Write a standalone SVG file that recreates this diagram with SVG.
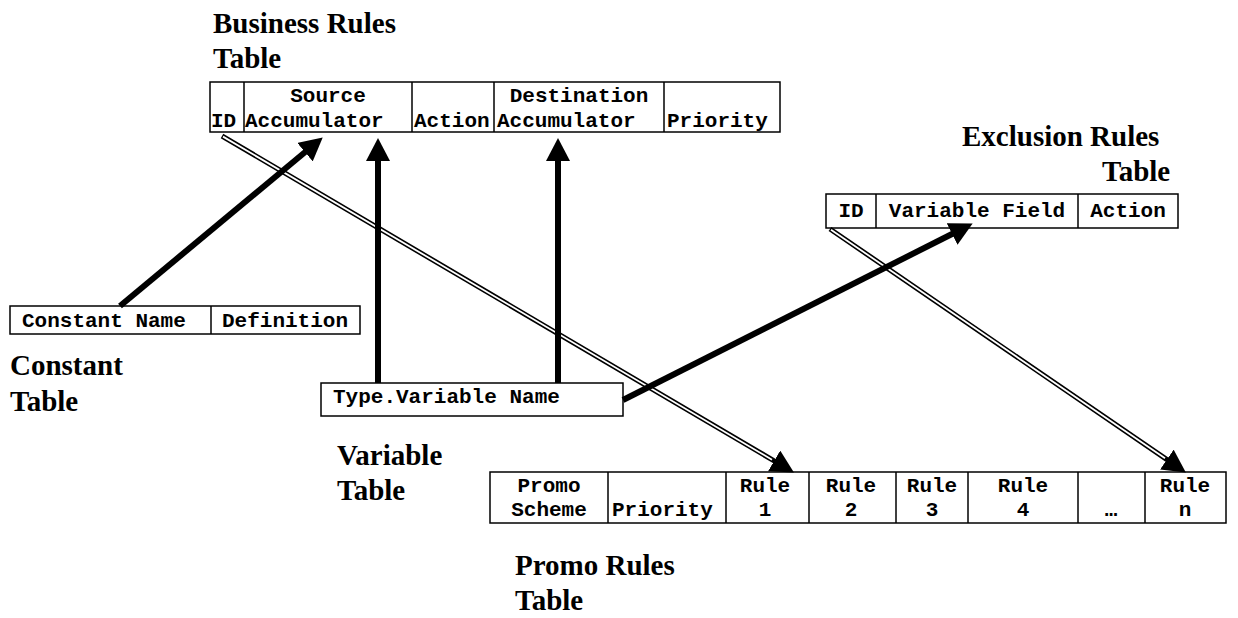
<svg xmlns="http://www.w3.org/2000/svg" width="1238" height="618" viewBox="0 0 1238 618">
<style>
.cell{fill:#fff;stroke:#000;stroke-width:1.5}
.div{stroke:#000;stroke-width:1.5}
.t{font-family:"Courier New","Liberation Mono",monospace;font-weight:bold;font-size:21px;fill:#000}
.c{text-anchor:middle}
.h{font-family:"Times New Roman","Liberation Serif",serif;font-weight:bold;font-size:29px;fill:#000}
.thick{stroke:#000;stroke-width:6;fill:none}
.dbl{stroke:#000;stroke-width:5;fill:none}
.dblin{stroke:#fff;stroke-width:1.8;fill:none}
</style>
<defs>
<marker id="ah" markerUnits="userSpaceOnUse" viewBox="0 0 23 24" refX="1" refY="12" markerWidth="23" markerHeight="24" orient="auto">
<path d="M0,0 L23,12 L0,24 Z" fill="#000"/>
</marker>
</defs>

<g id="business-rules">
<rect class="cell" x="210" y="82" width="570" height="50"/>
<line class="div" x1="244" y1="82" x2="244" y2="132"/>
<line class="div" x1="412" y1="82" x2="412" y2="132"/>
<line class="div" x1="494" y1="82" x2="494" y2="132"/>
<line class="div" x1="664" y1="82" x2="664" y2="132"/>
<text class="t" x="211" y="127">ID</text>
<text class="t c" x="328" y="102">Source</text>
<text class="t" x="245" y="127">Accumulator</text>
<text class="t" x="414" y="127">Action</text>
<text class="t c" x="579" y="102">Destination</text>
<text class="t" x="497" y="127">Accumulator</text>
<text class="t" x="667" y="127">Priority</text>
<text class="h" x="213" y="33">Business Rules</text>
<text class="h" x="213" y="68">Table</text>
</g>

<g id="exclusion-rules">
<rect class="cell" x="826" y="194" width="352" height="34"/>
<line class="div" x1="876" y1="194" x2="876" y2="228"/>
<line class="div" x1="1078" y1="194" x2="1078" y2="228"/>
<text class="t c" x="851" y="217">ID</text>
<text class="t c" x="977" y="217">Variable Field</text>
<text class="t c" x="1128" y="217">Action</text>
<text class="h" x="962" y="146">Exclusion Rules</text>
<text class="h" x="1102" y="181">Table</text>
</g>

<g id="constant-table">
<rect class="cell" x="10" y="306" width="350" height="28"/>
<line class="div" x1="211" y1="306" x2="211" y2="334"/>
<text class="t" x="22" y="327">Constant Name</text>
<text class="t" x="222" y="327">Definition</text>
<text class="h" x="10" y="375">Constant</text>
<text class="h" x="10" y="411">Table</text>
</g>

<g id="variable-table">
<rect class="cell" x="321" y="383" width="302" height="33"/>
<text class="t" x="333" y="403">Type.Variable Name</text>
<text class="h" x="337" y="465">Variable</text>
<text class="h" x="337" y="500">Table</text>
</g>

<g id="promo-rules">
<rect class="cell" x="490" y="472" width="736" height="51"/>
<line class="div" x1="608" y1="472" x2="608" y2="523"/>
<line class="div" x1="726" y1="472" x2="726" y2="523"/>
<line class="div" x1="809" y1="472" x2="809" y2="523"/>
<line class="div" x1="896" y1="472" x2="896" y2="523"/>
<line class="div" x1="968" y1="472" x2="968" y2="523"/>
<line class="div" x1="1078" y1="472" x2="1078" y2="523"/>
<line class="div" x1="1145" y1="472" x2="1145" y2="523"/>
<text class="t c" x="549" y="492">Promo</text>
<text class="t c" x="549" y="516">Scheme</text>
<text class="t" x="612" y="516">Priority</text>
<text class="t c" x="765" y="492">Rule</text>
<text class="t c" x="765" y="516">1</text>
<text class="t c" x="851" y="492">Rule</text>
<text class="t c" x="851" y="516">2</text>
<text class="t c" x="932" y="492">Rule</text>
<text class="t c" x="932" y="516">3</text>
<text class="t c" x="1023" y="492">Rule</text>
<text class="t c" x="1023" y="516">4</text>
<text class="t c" x="1111" y="516">…</text>
<text class="t c" x="1185" y="492">Rule</text>
<text class="t c" x="1185" y="516">n</text>
<text class="h" x="515" y="575">Promo Rules</text>
<text class="h" x="515" y="610">Table</text>
</g>

<g id="connectors">
<line class="dbl" x1="222" y1="136" x2="775" y2="461.4" marker-end="url(#ah)"/>
<line class="dblin" x1="223" y1="136.6" x2="772" y2="459.7"/>
<line class="dbl" x1="830" y1="229" x2="1167.7" y2="460.1" marker-end="url(#ah)"/>
<line class="dblin" x1="831" y1="229.7" x2="1165" y2="458.3"/>
<line class="thick" x1="120" y1="306" x2="305.8" y2="151.5" marker-end="url(#ah)"/>
<line class="thick" x1="378" y1="383" x2="378" y2="160" marker-end="url(#ah)"/>
<line class="thick" x1="558" y1="383" x2="558" y2="160" marker-end="url(#ah)"/>
<line class="thick" x1="623" y1="400" x2="953" y2="233.5" marker-end="url(#ah)"/>
</g>
</svg>
